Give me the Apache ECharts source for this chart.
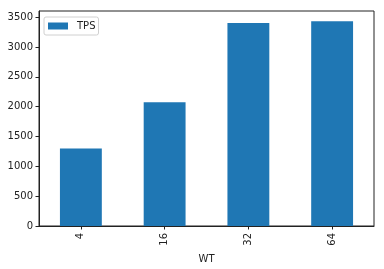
<!DOCTYPE html>
<html>
<head>
<meta charset="utf-8">
<script src="https://cdn.jsdelivr.net/npm/echarts@6/dist/echarts.min.js"></script>
<style>html,body{margin:0;padding:0;background:#fff}#c{width:384px;height:269px}</style>
</head>
<body>
<div id="c"></div>
<script>
const categories = ['4', '16', '32', '64'];
const tpsValues = [1298, 2075, 3405, 3435];
const yTicks = [0, 500, 1000, 1500, 2000, 2500, 3000, 3500];
const seriesName = 'TPS';
const xName = 'WT';

const font = 'DejaVu Sans';
const chart = echarts.init(document.getElementById('c'), null, {renderer: 'canvas'});
chart.setOption({
  animation: false,
  backgroundColor: '#fff',
  grid: {left: 39, right: 10, top: 11, bottom: 41, show: true, borderColor: '#222', borderWidth: 1, containLabel: false},
  legend: {
    left: 44, top: 17, padding: [4, 3, 4, 4],
    borderColor: '#d0d0d0', borderWidth: 1, borderRadius: 2,
    itemWidth: 20, itemHeight: 7, icon: 'rect',
    textStyle: {fontFamily: font, fontSize: 10, color: '#222', padding: [0, 0, 0, 4]},
    data: [seriesName]
  },
  xAxis: {
    type: 'category', data: categories,
    name: xName, nameLocation: 'middle', nameGap: 28,
    nameTextStyle: {fontFamily: font, fontSize: 10, color: '#222'},
    axisLine: {show: true, lineStyle: {color: '#222', width: 1}},
    axisTick: {show: true, alignWithLabel: true, length: 3.5, lineStyle: {color: '#222'}},
    axisLabel: {rotate: 90, margin: 7, fontFamily: font, fontSize: 10, color: '#222'},
    splitLine: {show: false}
  },
  yAxis: {
    type: 'value', min: 0, max: 3605, interval: 500,
    axisLine: {show: true, lineStyle: {color: '#222', width: 1}},
    axisTick: {show: true, length: 3.5, lineStyle: {color: '#222'}, customValues: yTicks},
    axisLabel: {margin: 6, fontFamily: font, fontSize: 10, color: '#222', customValues: yTicks,
      formatter: function (v) { return String(v); }},
    splitLine: {show: false}
  },
  series: [{
    name: seriesName, type: 'bar', data: tpsValues, barWidth: '50%',
    itemStyle: {color: '#1f77b4'}
  }]
});
</script>
</body>
</html>
